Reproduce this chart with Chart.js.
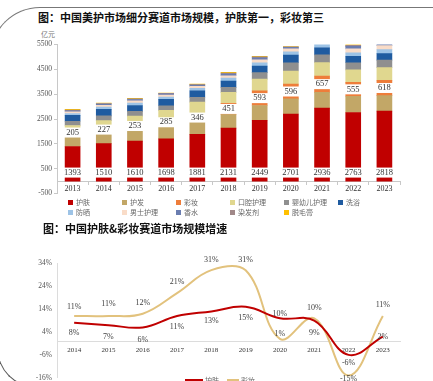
<!DOCTYPE html>
<html>
<head>
<meta charset="utf-8">
<script src="https://cdn.jsdelivr.net/npm/chart.js@4.4.1/dist/chart.umd.min.js"></script>
<style>
  html, body { margin: 0; padding: 0; width: 433px; height: 381px; overflow: hidden; background: #fff; }
  .title { position: absolute; font-family: "Noto Sans CJK SC"; font-weight: bold; font-size: 11px; line-height: 13px; color: #111; white-space: nowrap; }
  .frame1 { position: absolute; left: -10px; top: 7px; width: 520px; height: 200px; border-top: 1px solid #777; border-left: 1px solid #777; border-top-left-radius: 50px; }
  .frame2 { position: absolute; left: -3px; top: 300px; width: 100px; height: 88px; box-sizing: border-box; border-left: 1px solid #555; border-bottom: 1px solid #555; border-bottom-left-radius: 40px; }
  .unit { position: absolute; left: 41px; top: 30px; font-family: "Noto Sans CJK SC"; font-size: 7px; line-height: 9px; color: #777; }
  .item { position: absolute; font-family: "Noto Sans CJK SC"; font-size: 7px; line-height: 9px; color: #666; white-space: nowrap; }
  .box { display: inline-block; width: 5px; height: 5px; margin-right: 3px; vertical-align: 0px; }
  .line-key { display: inline-block; width: 18px; height: 2px; margin-right: 2px; vertical-align: 2px; }
  canvas { position: absolute; left: 0; }
</style>
</head>
<body>
<div class="frame1"></div>
<div class="frame2"></div>
<div class="title" style="left:38px; top:11px;">图：中国美护市场细分赛道市场规模，护肤第一，彩妆第三</div>
<div class="unit">亿元</div>
<canvas id="bars" width="433" height="200" style="top:0;"></canvas>
<div id="barLegend"></div>
<div class="title" style="left:43px; top:222px;">图：中国护肤&amp;彩妆赛道市场规模增速</div>
<canvas id="lines" width="433" height="150" style="top:240px;"></canvas>
<div class="item" style="left:185px; top:376px;"><span class="line-key" style="background:#C00000"></span>护肤</div>
<div class="item" style="left:227px; top:376px;"><span class="line-key" style="background:#E2C27D; width:12px"></span>彩妆</div>

<script>
// 市场规模（亿元）
const years = ['2013', '2014', '2015', '2016', '2017', '2018', '2019', '2020', '2021', '2022', '2023'];
const skincare   = [1393, 1510, 1610, 1698, 1881, 2131, 2449, 2701, 2936, 2763, 2818];
const haircare   = [460, 450, 481, 528, 504, 549, 595, 608, 639, 654, 622];
const makeup     = [205, 227, 253, 285, 346, 451, 593, 596, 657, 555, 618];
const oralCare   = [180, 250, 270, 335, 447, 444, 466, 527, 540, 508, 509];
const babyCare   = [170, 186, 192, 186, 199, 199, 266, 334, 307, 286, 302];
const bathing    = [240, 265, 238, 258, 262, 250, 262, 310, 282, 261, 266];
const sunscreen  = [75, 95, 100, 95, 95, 120, 130, 130, 171, 136, 158];
const mensCare   = [65, 70, 85, 80, 80, 97, 120, 120, 150, 158, 159];
const perfume    = [45, 50, 55, 45, 50, 70, 80, 60, 95, 103, 80];
const hairDye    = [30, 20, 30, 20, 22, 40, 40, 20, 40, 40, 40];
const depilatory = [22, 16, 23, 17, 18, 29, 26, 14, 27, 28, 25];

const segmentNames = ['护肤', '护发', '彩妆', '口腔护理', '婴幼儿护理', '洗浴', '防晒', '男士护理', '香水', '染发剂', '脱毛膏'];
const segmentValues = [skincare, haircare, makeup, oralCare, babyCare, bathing, sunscreen, mensCare, perfume, hairDye, depilatory];
const segmentColors = ['#C00000', '#C2A767', '#EE7D3A', '#E0D78F', '#8F8F8F', '#1F5BA0', '#9DC3E6', '#F9DCC8', '#6A7DB0', '#A08888', '#FFC000'];

// 增速（%）
const growthYears = ['2014', '2015', '2016', '2017', '2018', '2019', '2020', '2021', '2022', '2023'];
const skinGrowth   = [8, 7, 6, 11, 13, 15, 10, 9, -6, 2];
const makeupGrowth = [11, 11, 12, 21, 31, 31, 1, 10, -15, 11];

// label shift from the point, px (negative = above)
const skinLabelShift   = [10, 12, 12, 11, 10, 11, -4, 12, 8, 0];
const makeupLabelShift = [-9, -12, -11, -11, -10, -10, -5, -10, 3, -11];

const serif = '"Liberation Serif", "Times New Roman", serif';

const barLabels = {
  id: 'barLabels',
  afterDatasetsDraw(chart) {
    const ctx = chart.ctx;
    const y0 = chart.scales.y.getPixelForValue(0);
    ctx.save();
    ctx.font = '8.5px ' + serif;
    ctx.textAlign = 'center';
    ctx.textBaseline = 'middle';
    const drawLabel = (text, x, y) => {
      const w = ctx.measureText(text).width + 5;
      ctx.fillStyle = '#fff';
      ctx.fillRect(x - w / 2, y - 5, w, 10);
      ctx.fillStyle = '#333';
      ctx.fillText(text, x, y);
    };
    chart.getDatasetMeta(0).data.forEach((bar, i) => drawLabel(String(skincare[i]), bar.x, y0 - 8.5));
    chart.getDatasetMeta(2).data.forEach((bar, i) => drawLabel(String(makeup[i]), bar.x, (bar.y + bar.base) / 2));
    ctx.restore();
  }
};

const lineLabels = {
  id: 'lineLabels',
  afterDatasetsDraw(chart) {
    const ctx = chart.ctx;
    ctx.save();
    ctx.font = '8px ' + serif;
    ctx.fillStyle = '#404040';
    ctx.textAlign = 'center';
    ctx.textBaseline = 'middle';
    [[skinGrowth, skinLabelShift], [makeupGrowth, makeupLabelShift]].forEach(([vals, shift], d) => {
      chart.getDatasetMeta(d).data.forEach((pt, i) => ctx.fillText(vals[i] + '%', pt.x, pt.y + shift[i]));
    });
    ctx.restore();
  }
};

new Chart(document.getElementById('bars'), {
  type: 'bar',
  data: {
    labels: years,
    datasets: segmentNames.map((name, i) => ({
      label: name,
      data: segmentValues[i],
      backgroundColor: segmentColors[i],
      barThickness: 15,
      clip: 0
    }))
  },
  options: {
    responsive: false,
    animation: false,
    layout: { padding: { top: 44.5, right: 33, bottom: 4, left: 0 } },
    plugins: { legend: { display: false }, tooltip: { enabled: false } },
    scales: {
      x: {
        stacked: true,
        position: { y: 0 },
        grid: { drawOnChartArea: false, tickLength: 3, color: '#c8c8c8' },
        border: { color: '#c8c8c8' },
        ticks: { color: '#333', padding: 0.5, font: { family: serif, size: 8 } }
      },
      y: {
        stacked: true,
        min: -500,
        max: 5500,
        grid: { drawOnChartArea: false, tickLength: 3, color: '#c8c8c8' },
        border: { color: '#c8c8c8' },
        ticks: { stepSize: 1000, color: '#555', padding: 2, font: { family: serif, size: 7.5 }, callback: v => String(v) },
        afterFit: s => { s.width = 57; }
      }
    }
  },
  plugins: [barLabels]
});

const legendEl = document.getElementById('barLegend');
segmentNames.forEach((name, i) => {
  const item = document.createElement('div');
  item.className = 'item';
  item.style.left = (68 + 54 * (i % 6)) + 'px';
  item.style.top = (198 + 10 * Math.floor(i / 6)) + 'px';
  item.innerHTML = '<span class="box" style="background:' + segmentColors[i] + '"></span>' + name;
  legendEl.appendChild(item);
});

new Chart(document.getElementById('lines'), {
  type: 'line',
  data: {
    labels: growthYears,
    datasets: [
      { label: '护肤', data: skinGrowth, borderColor: '#C00000', borderWidth: 2, tension: 0.4, pointRadius: 0 },
      { label: '彩妆', data: makeupGrowth, borderColor: '#E2C27D', borderWidth: 2, tension: 0.4, pointRadius: 0 }
    ]
  },
  options: {
    responsive: false,
    animation: false,
    layout: { padding: { top: 23.3, right: 33, bottom: 12.2, left: 0 } },
    plugins: { legend: { display: false }, tooltip: { enabled: false } },
    scales: {
      x: {
        offset: true,
        position: { y: 0 },
        grid: { drawOnChartArea: false, drawTicks: false, offset: true },
        border: { color: '#dcdcdc' },
        ticks: { color: '#333', padding: 5, font: { family: serif, size: 7 } }
      },
      y: {
        min: -16,
        max: 34,
        grid: { drawOnChartArea: false, drawTicks: false },
        border: { color: '#dcdcdc' },
        ticks: { stepSize: 10, color: '#555', padding: 5, font: { family: serif, size: 7.5 }, callback: v => v + '%' },
        afterFit: s => { s.width = 57; }
      }
    }
  },
  plugins: [lineLabels]
});
</script>
</body>
</html>
